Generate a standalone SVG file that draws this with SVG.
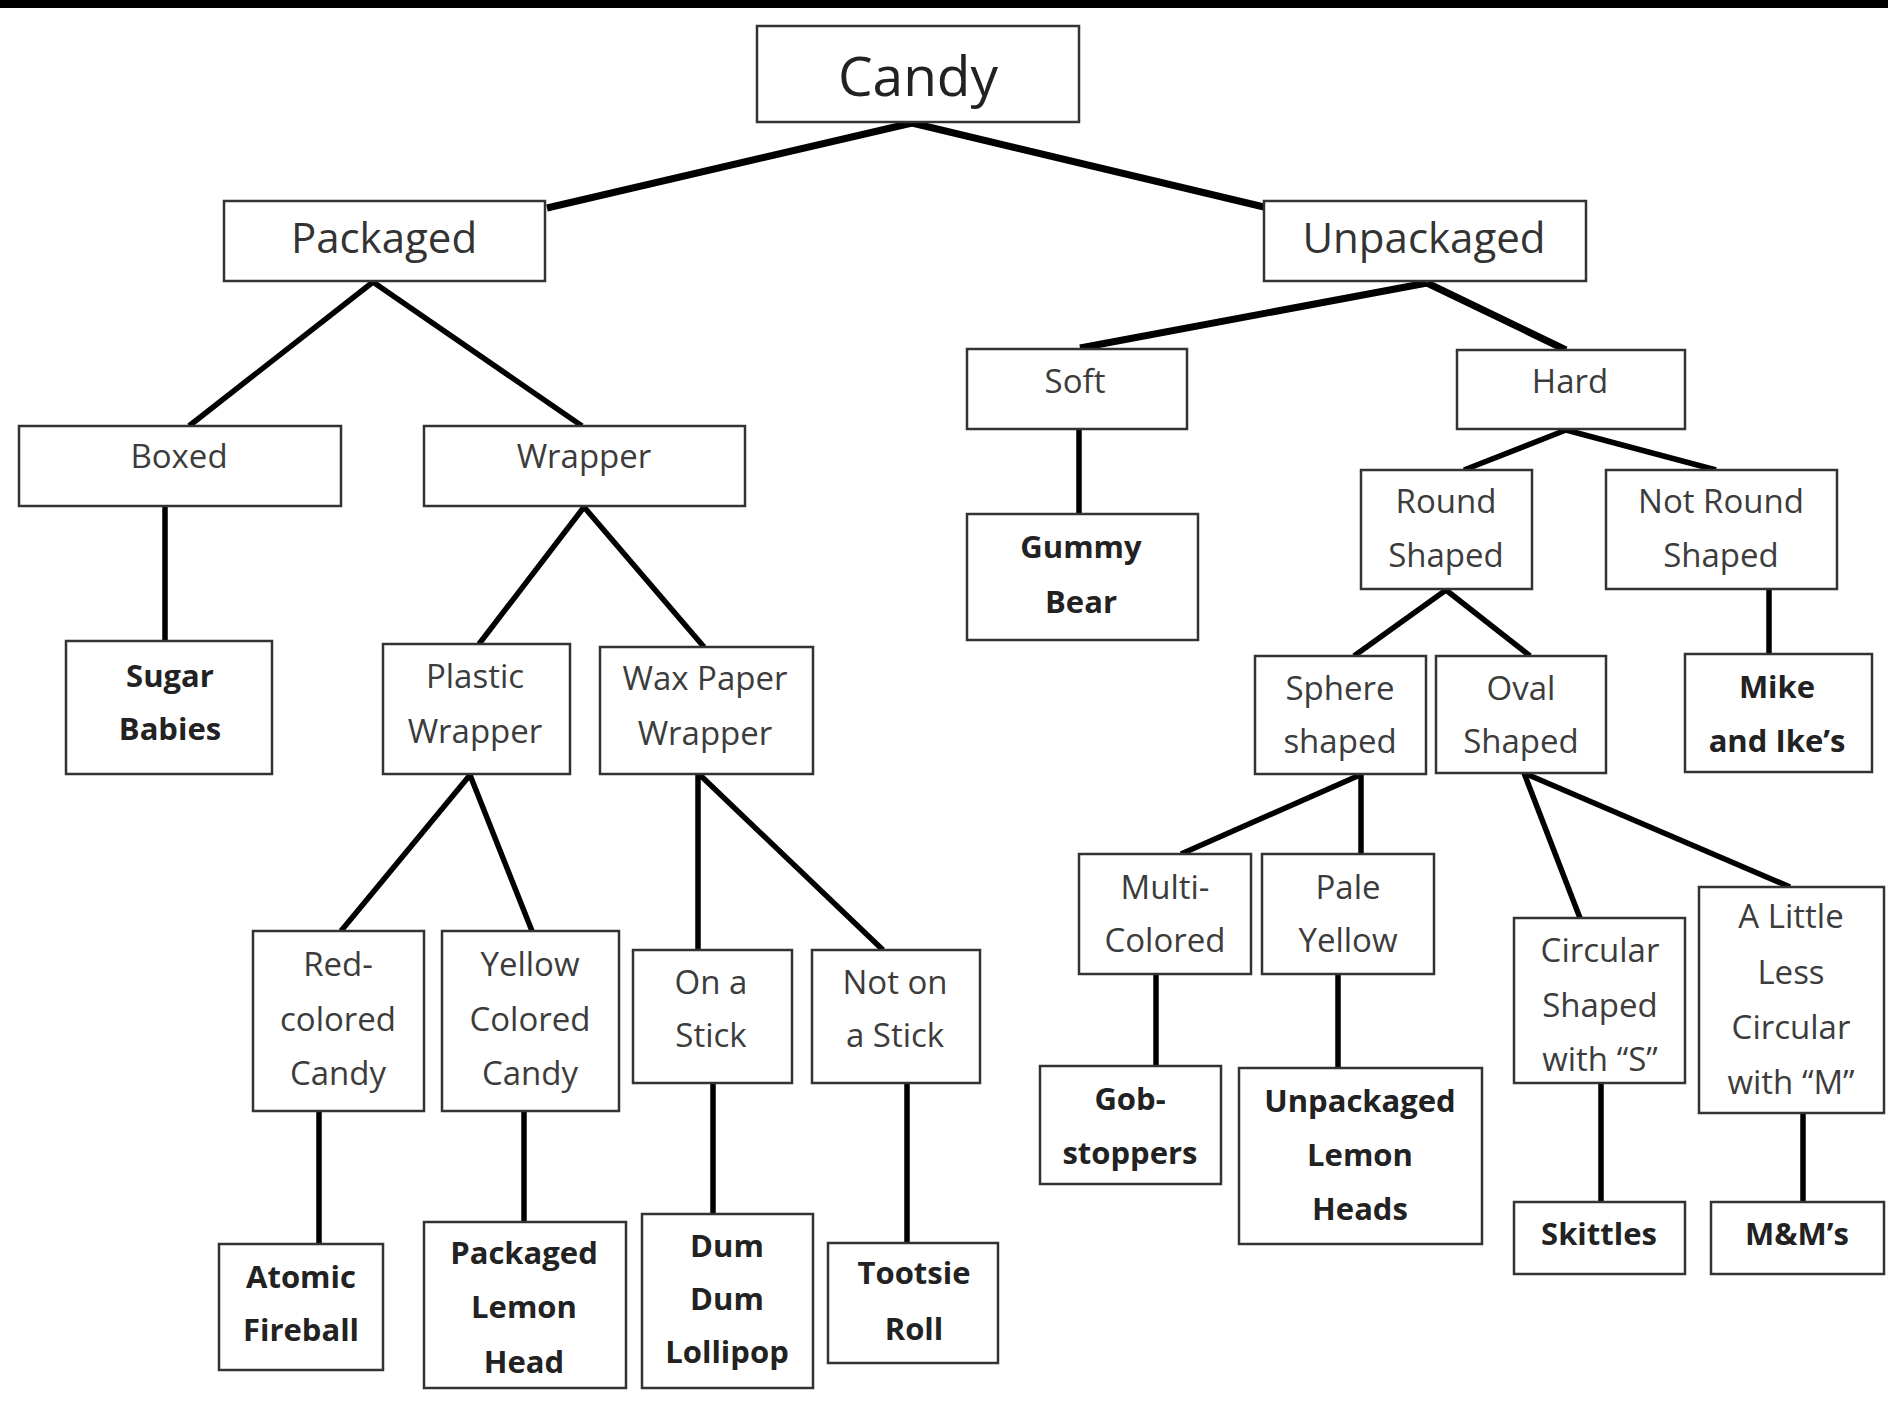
<svg xmlns="http://www.w3.org/2000/svg" width="1888" height="1421" viewBox="0 0 1888 1421">
<style>
.box{fill:#fff;stroke:#333;stroke-width:2.5}
.lbl{font-family:"Open Sans","Noto Sans",sans-serif;font-size:33px;fill:#3c3c3c;text-anchor:middle}
.big{font-family:"Open Sans","Noto Sans",sans-serif;font-size:42px;fill:#333;text-anchor:middle}
.top{font-family:"Open Sans","Noto Sans",sans-serif;font-size:55px;fill:#222;text-anchor:middle}
.leaf{font-family:"Open Sans","Noto Sans",sans-serif;font-size:31px;font-weight:bold;fill:#222;text-anchor:middle}
.c{stroke:#000;stroke-width:5.5;fill:none}
.ct{stroke:#000;stroke-width:7;fill:none}
</style>
<rect x="0" y="0" width="1888" height="1421" fill="#fff"/>
<rect x="0" y="0" width="1888" height="8" fill="#000"/>
<g id="connectors">
<line class="ct" x1="912" y1="123" x2="547" y2="208"/>
<line class="ct" x1="912" y1="123" x2="1264" y2="207"/>
<line class="c" x1="373" y1="282" x2="189" y2="426"/>
<line class="c" x1="373" y1="282" x2="582" y2="426"/>
<line class="c" x1="165" y1="506" x2="165" y2="641"/>
<line class="c" x1="584" y1="507" x2="479" y2="644"/>
<line class="c" x1="584" y1="507" x2="704" y2="647"/>
<line class="c" x1="470" y1="775" x2="341" y2="931"/>
<line class="c" x1="470" y1="775" x2="532" y2="931"/>
<line class="c" x1="698" y1="775" x2="698" y2="950"/>
<line class="c" x1="700" y1="775" x2="883" y2="950"/>
<line class="c" x1="319" y1="1111" x2="319" y2="1244"/>
<line class="c" x1="524" y1="1111" x2="524" y2="1222"/>
<line class="c" x1="713" y1="1083" x2="713" y2="1214"/>
<line class="c" x1="907" y1="1083" x2="907" y2="1243"/>
<line class="ct" x1="1427" y1="283" x2="1080" y2="348"/>
<line class="ct" x1="1427" y1="283" x2="1566" y2="350"/>
<line class="c" x1="1079" y1="429" x2="1079" y2="514"/>
<line class="c" x1="1566" y1="430" x2="1464" y2="470"/>
<line class="c" x1="1566" y1="430" x2="1716" y2="470"/>
<line class="c" x1="1769" y1="589" x2="1769" y2="654"/>
<line class="c" x1="1446" y1="590" x2="1354" y2="656"/>
<line class="c" x1="1446" y1="590" x2="1530" y2="656"/>
<line class="c" x1="1360" y1="775" x2="1181" y2="854"/>
<line class="c" x1="1361" y1="775" x2="1361" y2="854"/>
<line class="c" x1="1524" y1="773" x2="1580" y2="918"/>
<line class="c" x1="1524" y1="773" x2="1790" y2="887"/>
<line class="c" x1="1156" y1="974" x2="1156" y2="1066"/>
<line class="c" x1="1338" y1="974" x2="1338" y2="1068"/>
<line class="c" x1="1601" y1="1083" x2="1601" y2="1202"/>
<line class="c" x1="1803" y1="1113" x2="1803" y2="1202"/>
</g>
<g id="candy"><rect class="box" x="757" y="26" width="322" height="96"/><text class="top" x="918" y="96">Candy</text></g>
<g id="packaged"><rect class="box" x="224" y="201" width="321" height="80"/><text class="big" x="384" y="253">Packaged</text></g>
<g id="unpackaged"><rect class="box" x="1264" y="201" width="322" height="80"/><text class="big" x="1424" y="253">Unpackaged</text></g>
<g id="boxed"><rect class="box" x="19" y="426" width="322" height="80"/><text class="lbl" x="179" y="468">Boxed</text></g>
<g id="wrapper"><rect class="box" x="424" y="426" width="321" height="80"/><text class="lbl" x="584" y="468">Wrapper</text></g>
<g id="soft"><rect class="box" x="967" y="349" width="220" height="80"/><text class="lbl" x="1075" y="393">Soft</text></g>
<g id="hard"><rect class="box" x="1457" y="350" width="228" height="79"/><text class="lbl" x="1570" y="393">Hard</text></g>
<g id="sugar-babies"><rect class="box" x="66" y="641" width="206" height="133"/><text class="leaf" x="170" y="687">Sugar</text><text class="leaf" x="170" y="740">Babies</text></g>
<g id="plastic-wrapper"><rect class="box" x="383" y="644" width="187" height="130"/><text class="lbl" x="475" y="688">Plastic</text><text class="lbl" x="475" y="743">Wrapper</text></g>
<g id="wax-paper-wrapper"><rect class="box" x="600" y="647" width="213" height="127"/><text class="lbl" x="705" y="690">Wax Paper</text><text class="lbl" x="705" y="745">Wrapper</text></g>
<g id="gummy-bear"><rect class="box" x="967" y="514" width="231" height="126"/><text class="leaf" x="1081" y="558">Gummy</text><text class="leaf" x="1081" y="613">Bear</text></g>
<g id="round-shaped"><rect class="box" x="1361" y="470" width="171" height="119"/><text class="lbl" x="1446" y="513">Round</text><text class="lbl" x="1446" y="567">Shaped</text></g>
<g id="not-round-shaped"><rect class="box" x="1606" y="470" width="231" height="119"/><text class="lbl" x="1721" y="513">Not Round</text><text class="lbl" x="1721" y="567">Shaped</text></g>
<g id="sphere-shaped"><rect class="box" x="1255" y="656" width="171" height="118"/><text class="lbl" x="1340" y="700">Sphere</text><text class="lbl" x="1340" y="753">shaped</text></g>
<g id="oval-shaped"><rect class="box" x="1436" y="656" width="170" height="117"/><text class="lbl" x="1521" y="700">Oval</text><text class="lbl" x="1521" y="753">Shaped</text></g>
<g id="mike-and-ikes"><rect class="box" x="1685" y="654" width="187" height="118"/><text class="leaf" x="1777" y="698">Mike</text><text class="leaf" x="1777" y="752">and Ike’s</text></g>
<g id="red-colored-candy"><rect class="box" x="253" y="931" width="171" height="180"/><text class="lbl" x="338" y="976">Red-</text><text class="lbl" x="338" y="1031">colored</text><text class="lbl" x="338" y="1085">Candy</text></g>
<g id="yellow-colored-candy"><rect class="box" x="442" y="931" width="177" height="180"/><text class="lbl" x="530" y="976">Yellow</text><text class="lbl" x="530" y="1031">Colored</text><text class="lbl" x="530" y="1085">Candy</text></g>
<g id="on-a-stick"><rect class="box" x="633" y="950" width="159" height="133"/><text class="lbl" x="711" y="994">On a</text><text class="lbl" x="711" y="1047">Stick</text></g>
<g id="not-on-a-stick"><rect class="box" x="812" y="950" width="168" height="133"/><text class="lbl" x="895" y="994">Not on</text><text class="lbl" x="895" y="1047">a Stick</text></g>
<g id="atomic-fireball"><rect class="box" x="219" y="1244" width="164" height="126"/><text class="leaf" x="301" y="1288">Atomic</text><text class="leaf" x="301" y="1341">Fireball</text></g>
<g id="packaged-lemon-head"><rect class="box" x="424" y="1222" width="202" height="166"/><text class="leaf" x="524" y="1264">Packaged</text><text class="leaf" x="524" y="1318">Lemon</text><text class="leaf" x="524" y="1373">Head</text></g>
<g id="dum-dum-lollipop"><rect class="box" x="642" y="1214" width="171" height="174"/><text class="leaf" x="727" y="1257">Dum</text><text class="leaf" x="727" y="1310">Dum</text><text class="leaf" x="727" y="1363">Lollipop</text></g>
<g id="tootsie-roll"><rect class="box" x="828" y="1243" width="170" height="120"/><text class="leaf" x="914" y="1284">Tootsie</text><text class="leaf" x="914" y="1340">Roll</text></g>
<g id="multi-colored"><rect class="box" x="1079" y="854" width="172" height="120"/><text class="lbl" x="1165" y="899">Multi-</text><text class="lbl" x="1165" y="952">Colored</text></g>
<g id="pale-yellow"><rect class="box" x="1262" y="854" width="172" height="120"/><text class="lbl" x="1348" y="899">Pale</text><text class="lbl" x="1348" y="952">Yellow</text></g>
<g id="circular-s"><rect class="box" x="1514" y="918" width="171" height="165"/><text class="lbl" x="1600" y="962">Circular</text><text class="lbl" x="1600" y="1017">Shaped</text><text class="lbl" x="1600" y="1071">with “S”</text></g>
<g id="less-circular-m"><rect class="box" x="1699" y="887" width="185" height="226"/><text class="lbl" x="1791" y="928">A Little</text><text class="lbl" x="1791" y="984">Less</text><text class="lbl" x="1791" y="1039">Circular</text><text class="lbl" x="1791" y="1094">with “M”</text></g>
<g id="gobstoppers"><rect class="box" x="1040" y="1066" width="181" height="118"/><text class="leaf" x="1130" y="1110">Gob-</text><text class="leaf" x="1130" y="1164">stoppers</text></g>
<g id="unpackaged-lemon-heads"><rect class="box" x="1239" y="1068" width="243" height="176"/><text class="leaf" x="1360" y="1112">Unpackaged</text><text class="leaf" x="1360" y="1166">Lemon</text><text class="leaf" x="1360" y="1220">Heads</text></g>
<g id="skittles"><rect class="box" x="1514" y="1202" width="171" height="72"/><text class="leaf" x="1599" y="1245">Skittles</text></g>
<g id="mms"><rect class="box" x="1711" y="1202" width="173" height="72"/><text class="leaf" x="1797" y="1245">M&amp;M’s</text></g>
</svg>
